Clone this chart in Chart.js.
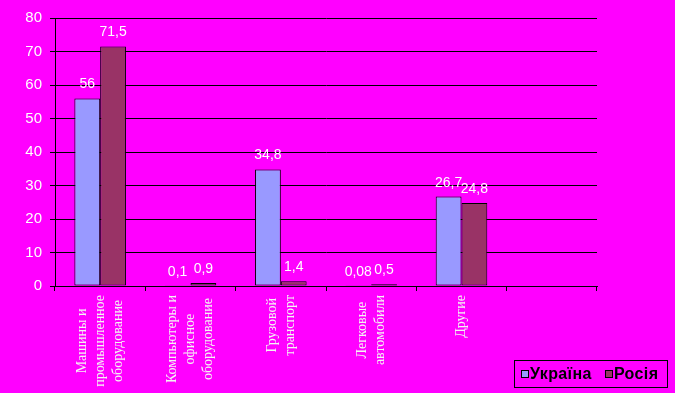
<!DOCTYPE html>
<html>
<head>
<meta charset="utf-8">
<script src="https://cdn.jsdelivr.net/npm/chart.js"></script>
<style>
  html, body { margin: 0; padding: 0; background: #FF00FF; }
  #wrap { position: relative; width: 675px; height: 393px; background: #FF00FF; overflow: hidden; }
  canvas { position: absolute; left: 0; top: 0; }
  #legend { position: absolute; left: 514px; top: 360px; width: 154px; height: 28px; border: 1px solid #000;
            box-sizing: border-box; font: bold 16px "Liberation Sans", Arial, sans-serif; letter-spacing: 0.4px; color: #000;
            display: flex; align-items: center; white-space: nowrap; }
  #legend .sw { display: inline-block; width: 6px; height: 6px; border: 1px solid #000; margin-right: 1px; }
  #legend .it { display: inline-flex; align-items: center; }
</style>
</head>
<body>
<div id="wrap">
  <canvas id="c" width="675" height="393"></canvas>
  <div id="legend"></div>
</div>
<script>
const categories = [
  ["Машины и", "промышленное", "оборудование"],
  ["Компьютеры и", "офисное", "оборудование"],
  ["Грузовой", "транспорт"],
  ["Легковые", "автомобили"],
  ["Другие"],
  [""]
];
const seriesNames = ["Україна", "Росія"];
const ukraineValues = [56, 0.1, 34.8, 0.08, 26.7, null];
const russiaValues = [71.5, 0.9, 1.4, 0.5, 24.8, null];
const yTicks = [0, 10, 20, 30, 40, 50, 60, 70, 80];
const colors = ["#9999FF", "#993366"];

const valueLabels = {
  id: 'valueLabels',
  afterDatasetsDraw(chart) {
    const ctx = chart.ctx;
    ctx.save();
    ctx.font = '14px "Liberation Sans", Arial, sans-serif';
    ctx.fillStyle = '#ffffff';
    ctx.textAlign = 'center';
    ctx.textBaseline = 'alphabetic';
    chart.data.datasets.forEach((ds, di) => {
      const meta = chart.getDatasetMeta(di);
      meta.data.forEach((el, i) => {
        const v = ds.data[i];
        if (v === null || v === undefined) return;
        ctx.fillText(String(v).replace('.', ','), el.x, el.y - 10);
      });
    });
    ctx.restore();
  }
};

const catLabels = {
  id: 'catLabels',
  afterDraw(chart) {
    const ctx = chart.ctx;
    const xs = chart.scales.x;
    ctx.save();
    ctx.font = '14px "Liberation Serif", "Times New Roman", serif';
    ctx.fillStyle = '#f4f4f4';
    ctx.textAlign = 'center';
    ctx.textBaseline = 'middle';
    const lh = 18;
    const top = xs.top + 9;
    categories.forEach((lines, i) => {
      const cx = xs.getPixelForValue(i);
      let maxW = 0;
      lines.forEach(l => { maxW = Math.max(maxW, ctx.measureText(l).width); });
      ctx.save();
      ctx.translate(cx, top + maxW / 2);
      ctx.rotate(-Math.PI / 2);
      lines.forEach((l, k) => {
        ctx.fillText(l, 0, (k - (lines.length - 1) / 2) * lh);
      });
      ctx.restore();
    });
    ctx.restore();
  }
};

new Chart(document.getElementById('c'), {
  type: 'bar',
  data: {
    labels: categories.map(c => c.join(' ')),
    datasets: [
      { label: seriesNames[0], data: ukraineValues, backgroundColor: colors[0], borderColor: '#000', borderWidth: 1, borderSkipped: false },
      { label: seriesNames[1], data: russiaValues, backgroundColor: colors[1], borderColor: '#000', borderWidth: 1, borderSkipped: false }
    ]
  },
  options: {
    responsive: false,
    animation: false,
    events: [],
    layout: { padding: { top: 18, right: 78, bottom: 0, left: 0 } },
    datasets: { bar: { categoryPercentage: 0.571, barPercentage: 1.0 } },
    plugins: { legend: { display: false }, tooltip: { enabled: false } },
    scales: {
      x: {
        offset: true,
        grid: { offset: true, drawOnChartArea: false, drawTicks: true, tickLength: 5, color: '#000', lineWidth: 1 },
        border: { color: '#000', width: 1 },
        ticks: { display: false },
        afterFit(s) { s.height = 107; }
      },
      y: {
        min: 0, max: 80,
        afterBuildTicks(s) { s.ticks = yTicks.map(v => ({ value: v })); },
        grid: { color: '#000', lineWidth: 1, drawTicks: true, tickLength: 5 },
        border: { color: '#000', width: 1 },
        ticks: { color: '#ffffff', padding: 8, font: { family: '"Liberation Sans", Arial, sans-serif', size: 15 } },
        afterFit(s) { s.width = 55; }
      }
    }
  },
  plugins: [valueLabels, catLabels]
});

const lg = document.getElementById('legend');
lg.innerHTML = '<span style="width:6px;display:inline-block"></span>' +
  seriesNames.map((n, i) => '<span class="it"><span class="sw" style="background:' + colors[i] + '"></span>' + n + '</span>').join('<span style="width:13px;display:inline-block"></span>');
</script>
</body>
</html>
